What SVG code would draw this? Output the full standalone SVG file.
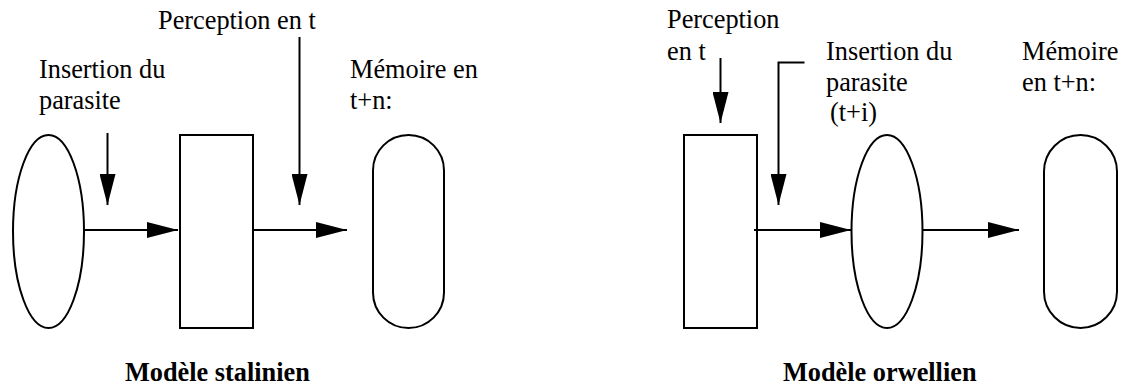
<svg xmlns="http://www.w3.org/2000/svg" width="1125" height="387" viewBox="0 0 1125 387" font-family="Liberation Serif, Times New Roman, serif" font-size="26.3">
  <defs>
    <marker id="arrow" markerUnits="userSpaceOnUse" markerWidth="31" markerHeight="16" refX="31" refY="8" orient="auto">
      <path d="M0,0 L31,8 L0,16 Z" fill="#000"/>
    </marker>
    <style>
      .shape { fill: #fff; stroke: #000; stroke-width: 2; }
      .link { fill: none; stroke: #000; stroke-width: 2; }
      .arr { marker-end: url(#arrow); }
      .lbl { fill: #000; }
      .title { fill: #000; font-weight: bold; }
    </style>
  </defs>

  <rect width="1125" height="387" fill="#fff"/>

  <!-- Stalinist model -->
  <g id="stal-parasite-state">
    <ellipse class="shape" cx="48.5" cy="231.5" rx="35.5" ry="96.5"/>
  </g>
  <g id="stal-perception">
    <rect class="shape" x="180" y="135" width="73" height="193"/>
  </g>
  <g id="stal-memory">
    <rect class="shape" x="373" y="135" width="71" height="193" rx="35.5" ry="35.5"/>
    <text class="lbl" x="350" y="78">Mémoire en</text>
    <text class="lbl" x="350" y="109">t+n:</text>
  </g>
  <g id="stal-insertion-label">
    <text class="lbl" x="39" y="78">Insertion du</text>
    <text class="lbl" x="39" y="109">parasite</text>
  </g>
  <g id="stal-perception-label">
    <text class="lbl" x="158" y="29">Perception en t</text>
  </g>
  <g id="stal-title">
    <text class="title" x="125" y="381">Modèle stalinien</text>
  </g>

  <!-- Orwellian model -->
  <g id="orw-perception">
    <rect class="shape" x="684" y="135" width="73" height="193"/>
  </g>
  <g id="orw-parasite-state">
    <ellipse class="shape" cx="887" cy="231.5" rx="35.5" ry="96.5"/>
  </g>
  <g id="orw-memory">
    <rect class="shape" x="1044" y="135" width="73" height="193" rx="36.5" ry="36.5"/>
    <text class="lbl" x="1022" y="60">Mémoire</text>
    <text class="lbl" x="1022" y="91">en t+n:</text>
  </g>
  <g id="orw-perception-label">
    <text class="lbl" x="667" y="28">Perception</text>
    <text class="lbl" x="667" y="60">en t</text>
  </g>
  <g id="orw-insertion-label">
    <text class="lbl" x="826" y="60">Insertion du</text>
    <text class="lbl" x="826" y="91">parasite</text>
    <text class="lbl" x="830" y="121">(t+i)</text>
  </g>
  <g id="orw-title">
    <text class="title" x="783" y="381">Modèle orwellien</text>
  </g>

  <!-- Connectors -->
  <g id="connectors">
    <line class="link arr" x1="85" y1="230" x2="178" y2="230"/>
    <line class="link arr" x1="254" y1="230" x2="347" y2="230"/>
    <line class="link arr" x1="107.5" y1="133" x2="107.5" y2="205"/>
    <line class="link arr" x1="299.5" y1="37" x2="299.5" y2="205"/>

    <line class="link arr" x1="720.5" y1="58" x2="720.5" y2="123"/>
    <polyline class="link arr" points="804.5,62.5 778.5,62.5 778.5,205"/>
    <line class="link arr" x1="754" y1="230" x2="851" y2="230"/>
    <line class="link arr" x1="923" y1="230" x2="1019" y2="230"/>
  </g>
</svg>
